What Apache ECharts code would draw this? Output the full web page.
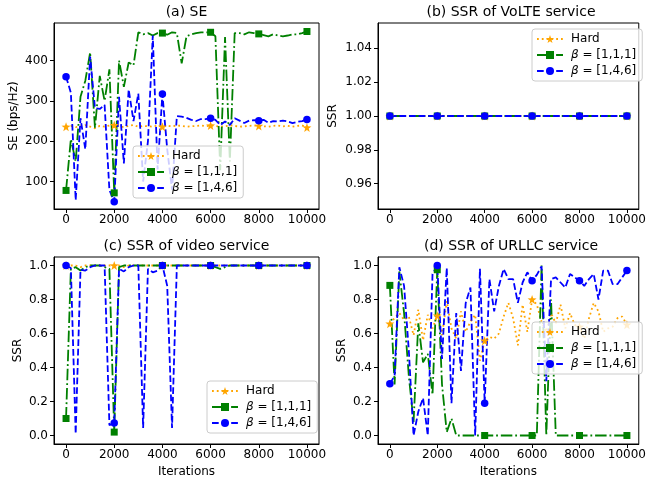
<!DOCTYPE html>
<html>
<head>
<meta charset="utf-8">
<script src="https://cdn.jsdelivr.net/npm/echarts@6/dist/echarts.min.js"></script>
<style>html,body{margin:0;padding:0;background:#fff;}#c{width:649px;height:483px;}</style>
</head>
<body>
<div id="c"></div>
<script>
const iterations = [0,200,400,600,800,1000,1200,1400,1600,1800,2000,2200,2400,2600,2800,3000,3200,3400,3600,3800,4000,4200,4400,4600,4800,5000,5200,5400,5600,5800,6000,6200,6400,6600,6800,7000,7200,7400,7600,7800,8000,8200,8400,8600,8800,9000,9200,9400,9600,9800,10000];
const xTicks = [0,2000,4000,6000,8000,10000];
const seTicks = [100,200,300,400];
const volteTicks = [0.96,0.98,1.00,1.02,1.04];
const ssrTicks = [0,0.2,0.4,0.6,0.8,1.0];
const seriesNames = ['Hard','β = [1,1,1]','β = [1,4,6]'];

// (a) SE
const seHard = [236,238,235,237,240,236,232,238,236,239,240,237,235,238,240,236,238,237,236,239,236,238,237,239,238,236,237,238,239,237,239,238,236,237,239,238,236,237,238,239,238,237,236,238,239,237,238,236,238,239,234];
const seB111 = [78,205,150,310,350,420,233,362,300,378,72,400,335,395,388,470,465,468,462,468,468,464,470,468,393,460,465,468,470,470,470,460,128,458,150,468,468,465,470,468,466,463,460,465,462,460,462,465,465,468,472];
const seB146 = [360,320,54,257,180,410,282,280,290,79,50,310,145,328,250,318,100,200,462,130,317,180,80,262,261,258,253,250,255,255,257,253,240,249,240,257,251,245,251,252,251,253,246,250,249,251,249,245,248,250,254];
// (b) SSR of VoLTE
const volteHard = [1,1,1,1,1,1,1,1,1,1,1,1,1,1,1,1,1,1,1,1,1,1,1,1,1,1,1,1,1,1,1,1,1,1,1,1,1,1,1,1,1,1,1,1,1,1,1,1,1,1,1];
const volteB111 = [1,1,1,1,1,1,1,1,1,1,1,1,1,1,1,1,1,1,1,1,1,1,1,1,1,1,1,1,1,1,1,1,1,1,1,1,1,1,1,1,1,1,1,1,1,1,1,1,1,1,1];
const volteB146 = [1,1,1,1,1,1,1,1,1,1,1,1,1,1,1,1,1,1,1,1,1,1,1,1,1,1,1,1,1,1,1,1,1,1,1,1,1,1,1,1,1,1,1,1,1,1,1,1,1,1,1];
// (c) SSR of video
const videoHard = [1,1,1,0.99,1,1,1,1,1,1,1,1,0.99,1,1,1,1,1,1,1,1,1,1,1,1,1,1,1,1,1,1,1,1,1,1,1,1,1,1,1,1,1,1,1,1,1,1,1,1,1,1];
const videoB111 = [0.10,0.98,0.99,0.97,0.99,1,1,1,0.99,0.98,0.02,0.99,1,1,1,1,1,1,1,1,1,1,1,1,1,1,1,1,1,1,1,0.99,0.98,0.99,1,1,1,1,1,1,1,1,1,1,1,1,1,1,1,1,1];
const videoB146 = [1,0.985,0.01,0.975,0.97,0.99,1,1,1,0.06,0.074,0.98,0.965,0.99,1,1,0.045,0.98,0.96,0.97,1,0.88,0.045,1,1,1,1,1,1,1,1,1,1,1,1,1,1,1,1,1,1,1,1,1,1,1,1,1,1,1,1];
// (d) SSR of URLLC
const urllcHard = [0.658,0.69,0.72,0.68,0.70,0.59,0.74,0.56,0.71,0.63,0.705,0.59,0.79,0.63,0.57,0.73,0.61,0.67,0.71,0.44,0.558,0.58,0.57,0.60,0.70,0.78,0.69,0.53,0.77,0.61,0.80,0.77,0.67,0.61,0.72,0.66,0.77,0.63,0.72,0.65,0.64,0.57,0.69,0.78,0.73,0.61,0.63,0.64,0.69,0.70,0.652];
const urllcB111 = [0.883,0.30,0.965,0.72,0.35,0.08,0.66,0.43,0.48,0.24,0.975,0.30,0.02,0.10,0,0,0,0,0,0,0,0,0,0,0,0,0,0,0,0,0,0,1.0,0,0.80,0,0,0,0,0,0,0,0,0,0,0,0,0,0,0,0];
const urllcB146 = [0.305,0.35,0.99,0.88,0.50,0.0,0.14,0.22,0.0,0.95,1.0,0.45,0.985,0.19,0.72,0.38,0.78,0.87,0.0,0.98,0.19,0.92,0.73,0.88,0.98,0.92,0.92,0.78,0.90,0.96,0.91,0.945,0.995,0.32,0.92,0.93,0.90,0.87,0.95,0.93,0.91,0.88,0.92,0.95,0.80,0.97,0.97,0.89,0.89,0.93,0.97];

const FONT = 'DejaVu Sans';
const STAR = 'path://M0,-10 L2.35,-3.24 L9.51,-3.09 L3.80,1.24 L5.88,8.09 L0,4.2 L-5.88,8.09 L-3.80,1.24 L-9.51,-3.09 L-2.35,-3.24 Z';
const LW = 1.8;
const styles = [
  {color:'#FFA500', type:[1.8,3.0], symbol:STAR, size:9},
  {color:'#008000', type:[11.5,2.9,1.8,2.9], symbol:'rect', size:7},
  {color:'#0000FF', type:[6.7,2.9], symbol:'circle', size:7.5}
];

function lineData(ys){
  return iterations.map((x,i)=> i%10===0 ? {value:[x, ys[i]]} : {value:[x, ys[i]], symbol:'none'});
}
function mkSeries(k, ys, idx){
  const s = styles[k];
  return {
    type:'line', name: seriesNames[k], xAxisIndex: idx, yAxisIndex: idx,
    data: lineData(ys), symbol: s.symbol, symbolSize: s.size, showAllSymbol: true,
    lineStyle:{color:s.color, width:LW, type:s.type},
    itemStyle:{color:s.color, borderWidth:0},
    emphasis:{disabled:true}, animation:false, z: 2, zlevel: 0
  };
}

const grids = [
  {left:54, top:23, width:265, height:186},
  {left:378, top:23, width:266, height:186},
  {left:54, top:257, width:265, height:187},
  {left:378, top:257, width:266, height:187}
];
const gridOpts = grids.map(g => Object.assign({show:true, borderColor:'#000', borderWidth:1, backgroundColor:'transparent'}, g));

function xAx(idx, name){
  return {
    type:'value', gridIndex: idx, min:-500, max:10500,
    name: name || '', nameLocation:'middle', nameGap:22,
    nameTextStyle:{fontFamily:FONT, fontSize:12, color:'#000'},
    axisLine:{show:true, onZero:false, lineStyle:{color:'#000', width:1}},
    axisTick:{show:true, length:4, lineStyle:{color:'#000'}, customValues: xTicks},
    axisLabel:{fontFamily:FONT, fontSize:12, color:'#000', margin:5, customValues: xTicks,
      formatter: v => String(Math.round(v))},
    splitLine:{show:false}
  };
}
function yAx(idx, name, gap, mn, mx, ticks, dec){
  return {
    type:'value', gridIndex: idx, min:mn, max:mx,
    name: name, nameLocation:'middle', nameGap:gap,
    nameTextStyle:{fontFamily:FONT, fontSize:12, color:'#000'},
    axisLine:{show:true, onZero:false, lineStyle:{color:'#000', width:1}},
    axisTick:{show:true, length:4, lineStyle:{color:'#000'}, customValues: ticks},
    axisLabel:{fontFamily:FONT, fontSize:12, color:'#000', margin:6, customValues: ticks,
      formatter: v => dec === 0 ? String(Math.round(v)) : Number(v).toFixed(dec)},
    splitLine:{show:false}
  };
}

function mkLegend(left, top){
  return {
    orient:'vertical', left:left, top:top, data: seriesNames, selectedMode:false, z:20, zlevel:0,
    backgroundColor:'rgba(255,255,255,0.8)', borderColor:'#cccccc', borderWidth:1, borderRadius:3,
    padding:[4,6,4,4], itemGap:4, itemWidth:26, itemHeight:10,
    formatter: n => n.charAt(0) === 'β' ? '{it|β}{n|' + n.slice(1) + '}' : '{n|' + n + '}',
    textStyle:{fontFamily:FONT, fontSize:12, color:'#000', padding:[0,0,0,3],
      rich:{it:{fontFamily:FONT, fontSize:12, fontStyle:'italic', color:'#000'}, n:{fontFamily:FONT, fontSize:12, color:'#000'}}}
  };
}

function mkTitle(text, cx, top){
  return {text:text, left:cx, top:top, textAlign:'center', padding:0,
    textStyle:{fontFamily:FONT, fontSize:14, fontWeight:'normal', color:'#000'}};
}

const option = {
  animation:false,
  backgroundColor:'#fff',
  title:[
    mkTitle('(a) SE', 186.5, 5),
    mkTitle('(b) SSR of VoLTE service', 511, 5),
    mkTitle('(c) SSR of video service', 186.5, 239),
    mkTitle('(d) SSR of URLLC service', 511, 239)
  ],
  grid: gridOpts,
  xAxis:[xAx(0), xAx(1), xAx(2,'Iterations'), xAx(3,'Iterations')],
  yAxis:[
    yAx(0,'SE (bps/Hz)',34,32,493,seTicks,0),
    yAx(1,'SSR',39,0.945,1.055,volteTicks,2),
    yAx(2,'SSR',30,-0.05,1.05,ssrTicks,1),
    yAx(3,'SSR',30,-0.05,1.05,ssrTicks,1)
  ],
  legend:[mkLegend(133,146), mkLegend(532,29), mkLegend(207,381), mkLegend(532,322)],
  series:[
    mkSeries(0, seHard, 0), mkSeries(1, seB111, 0), mkSeries(2, seB146, 0),
    mkSeries(0, volteHard, 1), mkSeries(1, volteB111, 1), mkSeries(2, volteB146, 1),
    mkSeries(0, videoHard, 2), mkSeries(1, videoB111, 2), mkSeries(2, videoB146, 2),
    mkSeries(0, urllcHard, 3), mkSeries(1, urllcB111, 3), mkSeries(2, urllcB146, 3)
  ]
};
const chart = echarts.init(document.getElementById('c'), null, {renderer:'canvas'});
chart.setOption(option);
</script>
</body>
</html>
